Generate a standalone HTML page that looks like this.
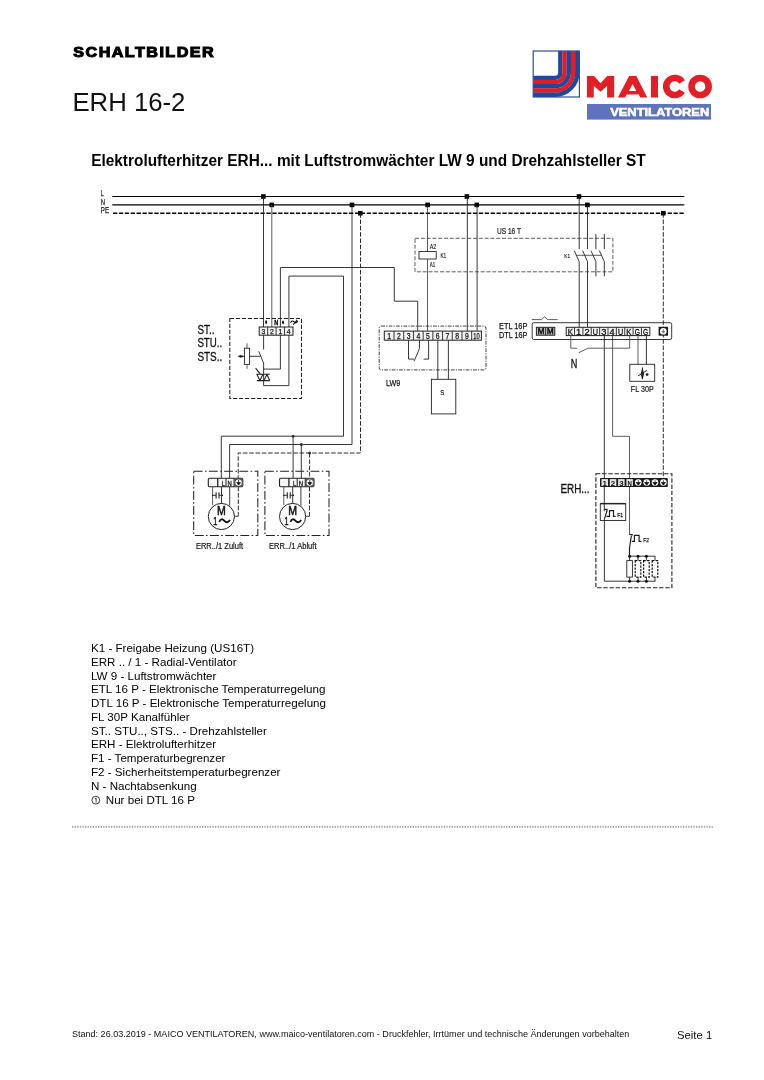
<!DOCTYPE html>
<html lang="de">
<head>
<meta charset="utf-8">
<title>ERH 16-2 Schaltbild</title>
<style>
html,body{margin:0;padding:0;background:#fff;}
body{width:764px;height:1080px;position:relative;overflow:hidden;font-family:"Liberation Sans",sans-serif;color:#000;}
#pg{position:absolute;left:0;top:0;width:764px;height:1080px;will-change:transform;}
.legend,.foot,.seite{will-change:transform;}
svg text{font-family:"Liberation Sans",sans-serif;}
.r{stroke:#000;stroke-width:1.2;fill:none;}
.w{stroke:#222;stroke-width:0.9;fill:none;}
.g{stroke:#555;stroke-width:0.95;fill:none;}
.t{stroke:#333;stroke-width:0.8;fill:none;}
.legend{position:absolute;left:90.9px;top:640.6px;font-size:11.6px;line-height:13.79px;white-space:nowrap;color:#000;}
.legend div{height:13.79px;}
.foot{position:absolute;left:72.2px;top:1027.9px;font-size:9.04px;line-height:12px;white-space:nowrap;color:#111;}
.seite{position:absolute;left:676.6px;top:1028px;font-size:11.3px;line-height:15px;white-space:nowrap;color:#111;}
.dots{position:absolute;left:73px;top:826px;width:641px;height:0;border-top:1px dotted #8a8a8a;}
</style>
</head>
<body>
<svg id="pg" width="764" height="1080" viewBox="0 0 764 1080">
<text transform="translate(73.3 56.7) scale(1.17 1)" x="0" y="0" font-size="13.8" font-weight="700" textLength="120" lengthAdjust="spacing" fill="#000" stroke="#000" stroke-width="1.0">SCHALTBILDER</text>
<text x="72.4" y="111" font-size="25.6" fill="#111" textLength="113" lengthAdjust="spacingAndGlyphs">ERH 16-2</text>
<text x="91.2" y="165.8" font-size="15.8" font-weight="700" fill="#000" textLength="554.6" lengthAdjust="spacingAndGlyphs">Elektrolufterhitzer ERH... mit Luftstromwächter LW 9 und Drehzahlsteller ST</text>
<line x1="72" y1="826.9" x2="714" y2="826.9" stroke="#777" stroke-width="1.1" stroke-dasharray="1.3 1.3"/>
<g id="logo">
<rect x="533.2" y="51" width="46.2" height="46" fill="#fff" stroke="#2a4f9e" stroke-width="1.2"/>
<path d="M560.32 51 L560.32 72.7 A5.12 5.12 0 0 1 555.2 77.82 L533.2 77.82" fill="none" stroke="#1f4a9c" stroke-width="4.390000000000001"/>
<path d="M564.56 51 L564.56 72.7 A9.36 9.36 0 0 1 555.2 82.06 L533.2 82.06" fill="none" stroke="#e41c23" stroke-width="4.390000000000001"/>
<path d="M568.80 51 L568.80 72.7 A13.60 13.60 0 0 1 555.2 86.30 L533.2 86.30" fill="none" stroke="#1f4a9c" stroke-width="4.390000000000001"/>
<path d="M573.04 51 L573.04 72.7 A17.84 17.84 0 0 1 555.2 90.54 L533.2 90.54" fill="none" stroke="#e41c23" stroke-width="4.390000000000001"/>
<path d="M577.28 51 L577.28 72.7 A22.08 22.08 0 0 1 555.2 94.78 L533.2 94.78" fill="none" stroke="#1f4a9c" stroke-width="4.390000000000001"/>
<g fill="#e31e24">
<path d="M586.9 97.6V76.1H594.1L600.6 83.3L607.1 76.1H614.2V97.6H607.1V85.9L600.6 91.8L593.8 85.9V97.6Z"/>
<path fill-rule="evenodd" d="M617.9 97.5L629.1 76H636.3L647.3 97.5H640.3L638.8 94.5H626.5L625.1 97.5ZM632.6 84.1L636.3 90.9H628.9Z"/>
<rect x="650.9" y="76" width="7.1" height="21.5"/>
</g>
<path d="M682.05 81.97A8.55 8.55 0 1 0 682.05 91.03" fill="none" stroke="#e31e24" stroke-width="6.6"/>
<circle cx="700.1" cy="86.5" r="8.55" fill="none" stroke="#e31e24" stroke-width="6.6"/>
<rect x="587" y="104" width="124" height="15.6" fill="#5f72bd"/>
<text x="610.2" y="115.9" font-size="10.3" font-weight="700" fill="#fff" stroke="#fff" stroke-width="0.55" textLength="99" lengthAdjust="spacingAndGlyphs">VENTILATOREN</text>
</g>
<g id="dia" fill="none">
<line x1="112.3" y1="196.5" x2="684.3" y2="196.5" class="r" />
<line x1="112.3" y1="204.9" x2="684.3" y2="204.9" class="r" />
<line x1="113" y1="213.2" x2="684.3" y2="213.2" class="r" stroke-dasharray="4.3 1.6"  style="stroke-width:1.45"/>
<text x="100.8" y="196.4" font-size="8.6" fill="#222" textLength="2.9" lengthAdjust="spacingAndGlyphs" stroke="#222" stroke-width="0.25">L</text>
<text x="100.8" y="205.0" font-size="8.6" fill="#222" textLength="4.3" lengthAdjust="spacingAndGlyphs" stroke="#222" stroke-width="0.25">N</text>
<text x="100.8" y="213.39999999999998" font-size="8.6" fill="#222" textLength="8.3" lengthAdjust="spacingAndGlyphs" stroke="#222" stroke-width="0.25">PE</text>
<rect x="261.10" y="194.20" width="4.6" height="4.6" fill="#000"/>
<rect x="269.50" y="202.60" width="4.6" height="4.6" fill="#000"/>
<rect x="349.70" y="202.60" width="4.6" height="4.6" fill="#000"/>
<rect x="358.00" y="210.90" width="4.6" height="4.6" fill="#000"/>
<rect x="425.30" y="202.60" width="4.6" height="4.6" fill="#000"/>
<rect x="464.60" y="194.20" width="4.6" height="4.6" fill="#000"/>
<rect x="474.50" y="202.60" width="4.6" height="4.6" fill="#000"/>
<rect x="576.70" y="194.20" width="4.6" height="4.6" fill="#000"/>
<rect x="585.10" y="202.60" width="4.6" height="4.6" fill="#000"/>
<rect x="660.90" y="210.90" width="4.6" height="4.6" fill="#000"/>
<line x1="263.5" y1="196.5" x2="263.5" y2="327" class="w" />
<line x1="271.8" y1="204.9" x2="271.8" y2="327" class="g" />
<path d="M280.4 327 V267.5 H394.3 V301.2 H417.7 V331.1" class="w" />
<path d="M288.9 327 V276.1 H343.5 V436.2 H221.3 V478.6" class="w" />
<line x1="293.1" y1="436.2" x2="293.1" y2="478.6" class="w" />
<path d="M352 204.9 V444.5 H229.6 V478.6" class="w" />
<line x1="301.3" y1="444.5" x2="301.3" y2="478.6" class="w" />
<path d="M360.5 213.2 V453 H238.2 V478.6" class="w" stroke-dasharray="4.6 1.7"  style="stroke-width:0.95"/>
<line x1="309.6" y1="453" x2="309.6" y2="478.6" class="w" stroke-dasharray="4.6 1.7"  style="stroke-width:0.95"/>
<circle cx="293.1" cy="436.2" r="1.5" fill="#333"/>
<circle cx="301.3" cy="444.5" r="1.5" fill="#333"/>
<circle cx="309.6" cy="453" r="1.5" fill="#333"/>
<line x1="427.5" y1="204.9" x2="427.5" y2="331.1" class="t" />
<line x1="467.3" y1="196.5" x2="467.3" y2="331.1" class="w" />
<line x1="477.1" y1="204.9" x2="477.1" y2="331.1" class="w" />
<line x1="579.2" y1="196.5" x2="579.2" y2="249.1" class="w" />
<line x1="579.2" y1="261.7" x2="579.2" y2="327.3" class="w" />
<line x1="574.3000000000001" y1="250.6" x2="579.2" y2="261.7" class="w" />
<line x1="587.5" y1="204.9" x2="587.5" y2="249.1" class="w" />
<line x1="587.5" y1="261.7" x2="587.5" y2="327.3" class="w" />
<line x1="582.6" y1="250.6" x2="587.5" y2="261.7" class="w" />
<line x1="595.9" y1="234" x2="595.9" y2="249.1" class="w" />
<line x1="595.9" y1="261.7" x2="595.9" y2="276.3" class="w" />
<line x1="591.0" y1="250.6" x2="595.9" y2="261.7" class="w" />
<line x1="604.3" y1="234" x2="604.3" y2="249.1" class="w" />
<line x1="604.3" y1="261.7" x2="604.3" y2="276.3" class="w" />
<line x1="599.4" y1="250.6" x2="604.3" y2="261.7" class="w" />
<line x1="575.8" y1="255.3" x2="601.8" y2="255.3" class="t" />
<path d="M604.3 335.6 V511.3 M604.4 518.9 V581.2 H655.3" class="w" />
<path d="M612.6 335.6 V436.3 H629.5 V534.9" class="t" />
<line x1="663.3" y1="213.2" x2="663.3" y2="478.3" class="w" stroke-dasharray="4.6 1.7"  style="stroke-width:0.95"/>
<line x1="638" y1="335.6" x2="638" y2="364.3" class="g" />
<line x1="646.4" y1="335.6" x2="646.4" y2="364.3" class="w" />
<rect x="229.8" y="318.4" width="71.7" height="80.1" class="w" stroke-dasharray="4.2 1.8"  style="stroke-width:1.05"/>
<rect x="259.2" y="327" width="33.8" height="8.2" fill="#f4f4f4" stroke="#222" stroke-width="1"/>
<line x1="267.65" y1="327" x2="267.65" y2="335.2" stroke="#222" stroke-width="0.9"/>
<line x1="276.10" y1="327" x2="276.10" y2="335.2" stroke="#222" stroke-width="0.9"/>
<line x1="284.55" y1="327" x2="284.55" y2="335.2" stroke="#222" stroke-width="0.9"/>
<text x="263.43" y="334.40" font-size="8" text-anchor="middle" fill="#111" stroke="#111" stroke-width="0.25" textLength="3.8" lengthAdjust="spacingAndGlyphs">3</text>
<text x="271.88" y="334.40" font-size="8" text-anchor="middle" fill="#111" stroke="#111" stroke-width="0.25" textLength="3.8" lengthAdjust="spacingAndGlyphs">2</text>
<text x="280.32" y="334.40" font-size="8" text-anchor="middle" fill="#111" stroke="#111" stroke-width="0.25" textLength="3.8" lengthAdjust="spacingAndGlyphs">1</text>
<text x="288.77" y="334.40" font-size="8" text-anchor="middle" fill="#111" stroke="#111" stroke-width="0.25" textLength="3.8" lengthAdjust="spacingAndGlyphs">4</text>
<ellipse cx="266.1" cy="322.1" rx="1.0" ry="1.9" fill="#111"/>
<text x="274.2" y="325.1" font-size="7.6" fill="#000" textLength="4.0" lengthAdjust="spacingAndGlyphs" font-weight="700" stroke="#000" stroke-width="0.3">N</text>
<ellipse cx="283" cy="322.3" rx="1.0" ry="1.9" fill="#111"/>
<path d="M290.5 322.7 C291.6 320.6 293 320.6 294.1 321.9 S296.6 323.3 297.8 321.1 M293.3 324.7 L297.2 319.8" class="t"   style="stroke-width:1.1;stroke:#111"/>
<text x="197.4" y="334.1" font-size="13.3" fill="#111" textLength="17" lengthAdjust="spacingAndGlyphs" stroke="#111" stroke-width="0.3">ST..</text>
<text x="197.4" y="347.2" font-size="13.3" fill="#111" textLength="24.8" lengthAdjust="spacingAndGlyphs" stroke="#111" stroke-width="0.3">STU..</text>
<text x="197.4" y="360.5" font-size="13.3" fill="#111" textLength="24.8" lengthAdjust="spacingAndGlyphs" stroke="#111" stroke-width="0.3">STS..</text>
<line x1="263.6" y1="335.2" x2="263.6" y2="349.6" class="w" />
<line x1="258.8" y1="351.3" x2="263.6" y2="363.2" class="w" />
<line x1="263.6" y1="363" x2="263.6" y2="385.6" class="w" />
<path d="M280.4 335.2 V369.1 H263.6" class="w" />
<path d="M288.9 335.2 V385.6 H263.6" class="w" />
<rect x="244.4" y="348.2" width="5.2" height="16.2" class="w" />
<line x1="247" y1="343.4" x2="247" y2="348.2" class="g" />
<line x1="247" y1="364.4" x2="247" y2="368.8" class="g" />
<line x1="249.6" y1="356.3" x2="260.6" y2="356.3" class="w" />
<path d="M238.2 356.3 L240.4 355.2 L243.4 356 H244.4 V356.6 H243.4 L240.4 357.4 Z" fill="#111" stroke="#111" stroke-width="0.4"/>
<path d="M256.4 374.2 H269.8 M256.8 380.6 H269.8 M257 374.4 L259.9 380.4 L262.8 374.4 M263.9 380.4 L266.9 374.4 L269.8 380.4 M255.6 368.2 L260.4 374.2" class="w"  style="stroke-width:1.1"/>
<rect x="415" y="238.3" width="197.9" height="33.5" class="t" stroke-dasharray="4 1.8"/>
<text x="497" y="234.1" font-size="8.7" fill="#222" textLength="24" lengthAdjust="spacingAndGlyphs" stroke="#111" stroke-width="0.2">US 16 T</text>
<rect x="419" y="251.5" width="17.2" height="7.5" class="w"  style="fill:#fff"/>
<text x="429.7" y="249.1" font-size="6.4" fill="#222" textLength="6.5" lengthAdjust="spacingAndGlyphs" stroke="#111" stroke-width="0.15">A2</text>
<text x="429.7" y="266.9" font-size="6.4" fill="#222" textLength="5.5" lengthAdjust="spacingAndGlyphs" stroke="#111" stroke-width="0.15">A1</text>
<text x="440.4" y="257.9" font-size="6.4" fill="#222" textLength="5.7" lengthAdjust="spacingAndGlyphs" stroke="#111" stroke-width="0.15">K1</text>
<text x="564.3" y="257.7" font-size="6.1" fill="#222" textLength="5.8" lengthAdjust="spacingAndGlyphs" stroke="#111" stroke-width="0.15">K1</text>
<rect x="379.2" y="326.1" width="106.8" height="43.8" class="w" stroke-dasharray="3.8 1.2 1.2 1.2" rx="2"  style="stroke-width:0.85"/>
<rect x="384.3" y="331.1" width="97.1" height="9.1" fill="#f4f4f4" stroke="#222" stroke-width="1"/>
<line x1="394.01" y1="331.1" x2="394.01" y2="340.20000000000005" stroke="#222" stroke-width="0.9"/>
<line x1="403.72" y1="331.1" x2="403.72" y2="340.20000000000005" stroke="#222" stroke-width="0.9"/>
<line x1="413.43" y1="331.1" x2="413.43" y2="340.20000000000005" stroke="#222" stroke-width="0.9"/>
<line x1="423.14" y1="331.1" x2="423.14" y2="340.20000000000005" stroke="#222" stroke-width="0.9"/>
<line x1="432.85" y1="331.1" x2="432.85" y2="340.20000000000005" stroke="#222" stroke-width="0.9"/>
<line x1="442.56" y1="331.1" x2="442.56" y2="340.20000000000005" stroke="#222" stroke-width="0.9"/>
<line x1="452.27" y1="331.1" x2="452.27" y2="340.20000000000005" stroke="#222" stroke-width="0.9"/>
<line x1="461.98" y1="331.1" x2="461.98" y2="340.20000000000005" stroke="#222" stroke-width="0.9"/>
<line x1="471.69" y1="331.1" x2="471.69" y2="340.20000000000005" stroke="#222" stroke-width="0.9"/>
<text x="389.16" y="339.10" font-size="8.3" text-anchor="middle" fill="#111" stroke="#111" stroke-width="0.25" textLength="3.8" lengthAdjust="spacingAndGlyphs">1</text>
<text x="398.87" y="339.10" font-size="8.3" text-anchor="middle" fill="#111" stroke="#111" stroke-width="0.25" textLength="3.8" lengthAdjust="spacingAndGlyphs">2</text>
<text x="408.57" y="339.10" font-size="8.3" text-anchor="middle" fill="#111" stroke="#111" stroke-width="0.25" textLength="3.8" lengthAdjust="spacingAndGlyphs">3</text>
<text x="418.29" y="339.10" font-size="8.3" text-anchor="middle" fill="#111" stroke="#111" stroke-width="0.25" textLength="3.8" lengthAdjust="spacingAndGlyphs">4</text>
<text x="428.00" y="339.10" font-size="8.3" text-anchor="middle" fill="#111" stroke="#111" stroke-width="0.25" textLength="3.8" lengthAdjust="spacingAndGlyphs">5</text>
<text x="437.70" y="339.10" font-size="8.3" text-anchor="middle" fill="#111" stroke="#111" stroke-width="0.25" textLength="3.8" lengthAdjust="spacingAndGlyphs">6</text>
<text x="447.42" y="339.10" font-size="8.3" text-anchor="middle" fill="#111" stroke="#111" stroke-width="0.25" textLength="3.8" lengthAdjust="spacingAndGlyphs">7</text>
<text x="457.12" y="339.10" font-size="8.3" text-anchor="middle" fill="#111" stroke="#111" stroke-width="0.25" textLength="3.8" lengthAdjust="spacingAndGlyphs">8</text>
<text x="466.84" y="339.10" font-size="8.3" text-anchor="middle" fill="#111" stroke="#111" stroke-width="0.25" textLength="3.8" lengthAdjust="spacingAndGlyphs">9</text>
<text x="476.55" y="339.10" font-size="8.3" text-anchor="middle" fill="#111" stroke="#111" stroke-width="0.25" textLength="6.46" lengthAdjust="spacingAndGlyphs">10</text>
<path d="M408.5 340.2 V359.1 H414" class="w" />
<path d="M419.5 340.2 V348.5 L414 361.3" class="w" />
<path d="M428.6 340.2 V359.1 H423.5" class="w" />
<line x1="437.8" y1="340.2" x2="437.8" y2="379.3" class="w" />
<line x1="448.4" y1="340.2" x2="448.4" y2="379.3" class="w" />
<rect x="431.4" y="379.3" width="24.4" height="34.6" class="w" />
<text x="440.2" y="394.8" font-size="7.6" fill="#222" textLength="4" lengthAdjust="spacingAndGlyphs" stroke="#111" stroke-width="0.2">S</text>
<text x="386" y="385.8" font-size="9.4" fill="#222" textLength="14.3" lengthAdjust="spacingAndGlyphs" stroke="#111" stroke-width="0.25">LW9</text>
<rect x="532.2" y="322.7" width="139.5" height="16.8" class="w" rx="1.6"/>
<text x="499.1" y="328.8" font-size="8.3" fill="#222" textLength="28.2" lengthAdjust="spacingAndGlyphs" stroke="#111" stroke-width="0.25">ETL 16P</text>
<text x="499.1" y="338.3" font-size="8.3" fill="#222" textLength="28.2" lengthAdjust="spacingAndGlyphs" stroke="#111" stroke-width="0.25">DTL 16P</text>
<path d="M531.8 319.6 H541.6 L544.6 316.8 L547.6 319.6 H557.7" class="t" />
<rect x="536.4" y="327.3" width="18.4" height="7.9" fill="#bdbdbd" stroke="#222" stroke-width="1"/>
<line x1="545.60" y1="327.3" x2="545.60" y2="335.2" stroke="#222" stroke-width="0.9"/>
<text x="541.00" y="334.40" font-size="8.2" text-anchor="middle" fill="#111" stroke="#111" stroke-width="0.5" textLength="6.6" lengthAdjust="spacingAndGlyphs">M</text>
<text x="550.20" y="334.40" font-size="8.2" text-anchor="middle" fill="#111" stroke="#111" stroke-width="0.5" textLength="6.6" lengthAdjust="spacingAndGlyphs">M</text>
<rect x="566.2" y="327.3" width="83.6" height="8.3" fill="#f4f4f4" stroke="#222" stroke-width="1"/>
<line x1="574.56" y1="327.3" x2="574.56" y2="335.6" stroke="#222" stroke-width="0.9"/>
<line x1="582.92" y1="327.3" x2="582.92" y2="335.6" stroke="#222" stroke-width="0.9"/>
<line x1="591.28" y1="327.3" x2="591.28" y2="335.6" stroke="#222" stroke-width="0.9"/>
<line x1="599.64" y1="327.3" x2="599.64" y2="335.6" stroke="#222" stroke-width="0.9"/>
<line x1="608.00" y1="327.3" x2="608.00" y2="335.6" stroke="#222" stroke-width="0.9"/>
<line x1="616.36" y1="327.3" x2="616.36" y2="335.6" stroke="#222" stroke-width="0.9"/>
<line x1="624.72" y1="327.3" x2="624.72" y2="335.6" stroke="#222" stroke-width="0.9"/>
<line x1="633.08" y1="327.3" x2="633.08" y2="335.6" stroke="#222" stroke-width="0.9"/>
<line x1="641.44" y1="327.3" x2="641.44" y2="335.6" stroke="#222" stroke-width="0.9"/>
<text x="570.38" y="334.75" font-size="8.8" text-anchor="middle" fill="#111" stroke="#111" stroke-width="0.3" textLength="5.2" lengthAdjust="spacingAndGlyphs">K</text>
<text x="578.74" y="334.75" font-size="8.8" text-anchor="middle" fill="#111" stroke="#111" stroke-width="0.3" textLength="5.2" lengthAdjust="spacingAndGlyphs">1</text>
<text x="587.10" y="334.75" font-size="8.8" text-anchor="middle" fill="#111" stroke="#111" stroke-width="0.3" textLength="5.2" lengthAdjust="spacingAndGlyphs">2</text>
<text x="595.46" y="334.75" font-size="8.8" text-anchor="middle" fill="#111" stroke="#111" stroke-width="0.3" textLength="5.2" lengthAdjust="spacingAndGlyphs">U</text>
<text x="603.82" y="334.75" font-size="8.8" text-anchor="middle" fill="#111" stroke="#111" stroke-width="0.3" textLength="5.2" lengthAdjust="spacingAndGlyphs">3</text>
<text x="612.18" y="334.75" font-size="8.8" text-anchor="middle" fill="#111" stroke="#111" stroke-width="0.3" textLength="5.2" lengthAdjust="spacingAndGlyphs">4</text>
<text x="620.54" y="334.75" font-size="8.8" text-anchor="middle" fill="#111" stroke="#111" stroke-width="0.3" textLength="5.2" lengthAdjust="spacingAndGlyphs">U</text>
<text x="628.90" y="334.75" font-size="8.8" text-anchor="middle" fill="#111" stroke="#111" stroke-width="0.3" textLength="5.2" lengthAdjust="spacingAndGlyphs">K</text>
<text x="637.26" y="334.75" font-size="8.8" text-anchor="middle" fill="#111" stroke="#111" stroke-width="0.3" textLength="5.2" lengthAdjust="spacingAndGlyphs">G</text>
<text x="645.62" y="334.75" font-size="8.8" text-anchor="middle" fill="#111" stroke="#111" stroke-width="0.3" textLength="5.2" lengthAdjust="spacingAndGlyphs">G</text>
<rect x="658.6" y="326.8" width="9.4" height="8.9" fill="#1a1a1a"/>
<circle cx="663.3" cy="331.25" r="3.35" fill="#fff"/>
<path d="M663.3 329.2 V332.2 M661.6 331.6 H665 M662.3 332.8 H664.3" class="t"  style="stroke:#555"/>
<path d="M570.8 335.6 V348.2 H577.1 M578.6 352.8 L587.9 348.2 H629.7 V335.6" class="g" />
<text x="570.7" y="368" font-size="13.5" fill="#111" textLength="6.6" lengthAdjust="spacingAndGlyphs" stroke="#111" stroke-width="0.35">N</text>
<rect x="629.8" y="364.3" width="24.9" height="17" class="w" />
<text x="630.8" y="391.5" font-size="8.4" fill="#222" textLength="22.9" lengthAdjust="spacingAndGlyphs" stroke="#111" stroke-width="0.2">FL 30P</text>
<path d="M642.4 367.4 V379.2 M638.1 375.9 L646.9 370.4 M642.4 369.4 q-2.3 4.6 0 9.2 q2.3 -4.6 0 -9.2" class="t"   style="stroke-width:1.0;stroke:#1a1a1a"/>
<circle cx="647.1" cy="374.6" r="1.4" fill="#222"/>
<rect x="193.7" y="471.2" width="64.1" height="64.2" class="w" stroke-dasharray="8.9 2.4 1.6 2.3"  style="stroke-width:1.05"/>
<rect x="208.3" y="478.3" width="34.5" height="8.5" rx="1.2" fill="#f6f6f6" stroke="#222" stroke-width="1.1"/>
<line x1="217.70" y1="478.3" x2="217.70" y2="486.8" stroke="#222" stroke-width="1.3"/>
<line x1="226.00" y1="478.3" x2="226.00" y2="486.8" stroke="#222" stroke-width="1.0"/>
<line x1="234.10" y1="478.3" x2="234.10" y2="486.8" stroke="#222" stroke-width="1.1"/>
<text x="221.70" y="485.7" font-size="8" fill="#111" stroke="#111" stroke-width="0.3" textLength="3.2" lengthAdjust="spacingAndGlyphs">L</text>
<text x="227.50" y="485.7" font-size="8" fill="#111" stroke="#111" stroke-width="0.3" textLength="4.3" lengthAdjust="spacingAndGlyphs">N</text>
<rect x="234.50" y="478.6" width="8" height="7.9" fill="#555"/>
<circle cx="238.60" cy="482.6" r="3.2" fill="#fff"/>
<path d="M238.60 480 V483 M236.70 482.6 H240.50 L238.60 485 Z" fill="#111" stroke="#111" stroke-width="0.8"/>
<circle cx="221.4" cy="516.5" r="13.1" class="w" style="stroke-width:1"/>
<line x1="212.6" y1="486.8" x2="212.6" y2="505.2" class="g" />
<line x1="221.5" y1="486.8" x2="221.5" y2="503.5" class="w" />
<line x1="212" y1="495.3" x2="216" y2="495.3" class="w" />
<line x1="219" y1="495.3" x2="222.8" y2="495.3" class="w" />
<line x1="216.1" y1="492.2" x2="216.1" y2="498.5" class="w"  style="stroke-width:1.1"/>
<line x1="219" y1="492.2" x2="219" y2="498.5" class="w"  style="stroke-width:1.1"/>
<path d="M212.2 494.4 L213.8 495.3 L212.2 496.2 Z M222.8 494.4 L221.2 495.3 L222.8 496.2 Z" fill="#222"/>
<line x1="229.7" y1="486.8" x2="229.7" y2="505.6" class="w" />
<path d="M238.3 486.8 V512" class="w" stroke-dasharray="4.6 1.7"  style="stroke-width:0.95"/>
<path d="M238.3 512 V516.3 H234.5" class="w" />
<text x="217.0" y="515.3" font-size="12.6" fill="#111" textLength="8.8" lengthAdjust="spacingAndGlyphs" stroke="#111" stroke-width="0.55">M</text>
<text x="213.3" y="525.1" font-size="11.8" fill="#111" textLength="4" lengthAdjust="spacingAndGlyphs" stroke="#111" stroke-width="0.45">1</text>
<path d="M219.20000000000002 521.9 q2 -4.6 5 -1.2 t5.8 -0.6" class="w"   style="stroke-width:1.8;stroke:#111"/>
<text x="195.9" y="548.9" font-size="8.3" fill="#222" textLength="47.2" lengthAdjust="spacingAndGlyphs" stroke="#111" stroke-width="0.2">ERR../1 Zuluft</text>
<rect x="264.9" y="471.2" width="64.1" height="64.2" class="w" stroke-dasharray="8.9 2.4 1.6 2.3"  style="stroke-width:1.05"/>
<rect x="279.5" y="478.3" width="34.5" height="8.5" rx="1.2" fill="#f6f6f6" stroke="#222" stroke-width="1.1"/>
<line x1="288.90" y1="478.3" x2="288.90" y2="486.8" stroke="#222" stroke-width="1.3"/>
<line x1="297.20" y1="478.3" x2="297.20" y2="486.8" stroke="#222" stroke-width="1.0"/>
<line x1="305.30" y1="478.3" x2="305.30" y2="486.8" stroke="#222" stroke-width="1.1"/>
<text x="292.90" y="485.7" font-size="8" fill="#111" stroke="#111" stroke-width="0.3" textLength="3.2" lengthAdjust="spacingAndGlyphs">L</text>
<text x="298.70" y="485.7" font-size="8" fill="#111" stroke="#111" stroke-width="0.3" textLength="4.3" lengthAdjust="spacingAndGlyphs">N</text>
<rect x="305.70" y="478.6" width="8" height="7.9" fill="#555"/>
<circle cx="309.80" cy="482.6" r="3.2" fill="#fff"/>
<path d="M309.80 480 V483 M307.90 482.6 H311.70 L309.80 485 Z" fill="#111" stroke="#111" stroke-width="0.8"/>
<circle cx="292.59999999999997" cy="516.5" r="13.1" class="w" style="stroke-width:1"/>
<line x1="283.8" y1="486.8" x2="283.8" y2="505.2" class="g" />
<line x1="292.7" y1="486.8" x2="292.7" y2="503.5" class="w" />
<line x1="283.2" y1="495.3" x2="287.2" y2="495.3" class="w" />
<line x1="290.2" y1="495.3" x2="294.0" y2="495.3" class="w" />
<line x1="287.3" y1="492.2" x2="287.3" y2="498.5" class="w"  style="stroke-width:1.1"/>
<line x1="290.2" y1="492.2" x2="290.2" y2="498.5" class="w"  style="stroke-width:1.1"/>
<path d="M283.4 494.4 L285.0 495.3 L283.4 496.2 Z M294.0 494.4 L292.4 495.3 L294.0 496.2 Z" fill="#222"/>
<line x1="300.9" y1="486.8" x2="300.9" y2="505.6" class="w" />
<path d="M309.5 486.8 V512" class="w" stroke-dasharray="4.6 1.7"  style="stroke-width:0.95"/>
<path d="M309.5 512 V516.3 H305.7" class="w" />
<text x="288.2" y="515.3" font-size="12.6" fill="#111" textLength="8.8" lengthAdjust="spacingAndGlyphs" stroke="#111" stroke-width="0.55">M</text>
<text x="284.49999999999994" y="525.1" font-size="11.8" fill="#111" textLength="4" lengthAdjust="spacingAndGlyphs" stroke="#111" stroke-width="0.45">1</text>
<path d="M290.4 521.9 q2 -4.6 5 -1.2 t5.8 -0.6" class="w"   style="stroke-width:1.8;stroke:#111"/>
<text x="269" y="548.9" font-size="8.3" fill="#222" textLength="47.5" lengthAdjust="spacingAndGlyphs" stroke="#111" stroke-width="0.2">ERR../1 Abluft</text>
<rect x="595.9" y="473.7" width="76" height="114" class="w" stroke-dasharray="4.4 1.8"  style="stroke-width:1.1"/>
<text x="560.5" y="492.9" font-size="13.3" fill="#111" textLength="29.1" lengthAdjust="spacingAndGlyphs" stroke="#111" stroke-width="0.35">ERH...</text>
<rect x="600" y="478.1" width="67.8" height="8.9" rx="0.8" fill="#1c1c1c"/>
<rect x="601.50" y="479.1" width="6.5" height="6.9" fill="#e4e4e4"/>
<text x="604.75" y="485.7" font-size="8" text-anchor="middle" fill="#111" font-weight="700" textLength="4.4" lengthAdjust="spacingAndGlyphs">1</text>
<rect x="609.80" y="479.1" width="6.5" height="6.9" fill="#e4e4e4"/>
<text x="613.05" y="485.7" font-size="8" text-anchor="middle" fill="#111" font-weight="700" textLength="4.4" lengthAdjust="spacingAndGlyphs">2</text>
<rect x="618.10" y="479.1" width="6.5" height="6.9" fill="#e4e4e4"/>
<text x="621.35" y="485.7" font-size="8" text-anchor="middle" fill="#111" font-weight="700" textLength="4.4" lengthAdjust="spacingAndGlyphs">3</text>
<rect x="626.40" y="479.1" width="6.5" height="6.9" fill="#e4e4e4"/>
<text x="629.65" y="485.7" font-size="8" text-anchor="middle" fill="#111" font-weight="700" textLength="4.4" lengthAdjust="spacingAndGlyphs">N</text>
<circle cx="638.30" cy="482.5" r="3.3" fill="#fff"/>
<path d="M638.30 480.2 V482.6 M636.20 482.5 H640.40 L638.30 485.2 Z" fill="#111" stroke="#111" stroke-width="0.7"/>
<circle cx="646.70" cy="482.5" r="3.3" fill="#fff"/>
<path d="M646.70 480.2 V482.6 M644.60 482.5 H648.80 L646.70 485.2 Z" fill="#111" stroke="#111" stroke-width="0.7"/>
<circle cx="655.00" cy="482.5" r="3.3" fill="#fff"/>
<path d="M655.00 480.2 V482.6 M652.90 482.5 H657.10 L655.00 485.2 Z" fill="#111" stroke="#111" stroke-width="0.7"/>
<circle cx="663.40" cy="482.5" r="3.3" fill="#fff"/>
<path d="M663.40 480.2 V482.6 M661.30 482.5 H665.50 L663.40 485.2 Z" fill="#111" stroke="#111" stroke-width="0.7"/>
<rect x="600.3" y="503.7" width="25.4" height="16.8" class="w" />
<line x1="600.3" y1="503.6" x2="625.7" y2="503.6" class="w"  style="stroke-width:1.4"/>
<path d="M604.4 509.4 H607 V511.5 M606.8 511.4 L604.5 518.9 M606.5 516.3 H609.5 V510.6 H613.5 V516.3 H615.6" class="t"   style="stroke-width:1.15;stroke:#1a1a1a"/>
<text x="617.2" y="516.6" font-size="6.1" fill="#222" textLength="6" lengthAdjust="spacingAndGlyphs" stroke="#111" stroke-width="0.25">F1</text>
<path d="M629.5 534.5 H632.2 V535.6 M631.4 535.6 L629.5 548 V556.3 M631.8 541.4 H634.4 V535.4 H639.1 V541.4 H641.5" class="t"   style="stroke-width:1.15;stroke:#1a1a1a"/>
<text x="643.3" y="541.7" font-size="6.1" fill="#222" textLength="5.6" lengthAdjust="spacingAndGlyphs" stroke="#111" stroke-width="0.25">F2</text>
<line x1="629.5" y1="556.2" x2="655.3" y2="556.2" class="w" />
<rect x="626.8000000000001" y="560.6" width="5.6" height="16.5" class="w" />
<line x1="629.6" y1="556.2" x2="629.6" y2="560.6" class="w" />
<line x1="629.6" y1="577.1" x2="629.6" y2="581.2" class="w" />
<circle cx="629.6" cy="556.2" r="1.5" fill="#111"/>
<circle cx="629.6" cy="581.2" r="1.5" fill="#111"/>
<rect x="635.2" y="560.6" width="5.6" height="16.5" class="w" stroke-dasharray="2.2 1.3"   style="stroke-width:1.2;stroke:#111"/>
<line x1="638" y1="556.2" x2="638" y2="560.6" class="w" />
<line x1="638" y1="577.1" x2="638" y2="581.2" class="w" />
<circle cx="638" cy="556.2" r="1.5" fill="#111"/>
<circle cx="638" cy="581.2" r="1.5" fill="#111"/>
<rect x="643.6" y="560.6" width="5.6" height="16.5" class="w" stroke-dasharray="2.2 1.3"   style="stroke-width:1.2;stroke:#111"/>
<line x1="646.4" y1="556.2" x2="646.4" y2="560.6" class="w" />
<line x1="646.4" y1="577.1" x2="646.4" y2="581.2" class="w" />
<circle cx="646.4" cy="556.2" r="1.5" fill="#111"/>
<circle cx="646.4" cy="581.2" r="1.5" fill="#111"/>
<rect x="652.2" y="560.6" width="5.6" height="16.5" class="w" stroke-dasharray="2.2 1.3"   style="stroke-width:1.2;stroke:#111"/>
<line x1="655" y1="556.2" x2="655" y2="560.6" class="w" />
<line x1="655" y1="577.1" x2="655" y2="581.2" class="w" />
</g>
</svg>
<div class="legend">
<div>K1 - Freigabe Heizung (US16T)</div>
<div>ERR .. / 1 - Radial-Ventilator</div>
<div>LW 9 - Luftstromwächter</div>
<div>ETL 16 P - Elektronische Temperaturregelung</div>
<div>DTL 16 P - Elektronische Temperaturregelung</div>
<div>FL 30P Kanalfühler</div>
<div>ST.. STU.., STS.. - Drehzahlsteller</div>
<div>ERH - Elektrolufterhitzer</div>
<div>F1 - Temperaturbegrenzer</div>
<div>F2 - Sicherheitstemperaturbegrenzer</div>
<div>N - Nachtabsenkung</div>
<div><svg width="14.8" height="10" viewBox="0 0 14.8 10" style="vertical-align:-1px;overflow:visible"><circle cx="4.8" cy="5.2" r="3.9" fill="none" stroke="#111" stroke-width="0.8"/><path d="M3.9 3.9L5.1 3V7.4" fill="none" stroke="#111" stroke-width="0.8"/></svg>Nur bei DTL 16 P</div>
</div>
<div class="foot">Stand: 26.03.2019 - MAICO VENTILATOREN, www.maico-ventilatoren.com - Druckfehler, Irrtümer und technische Änderungen vorbehalten</div>
<div class="seite">Seite 1</div>
</body>
</html>
